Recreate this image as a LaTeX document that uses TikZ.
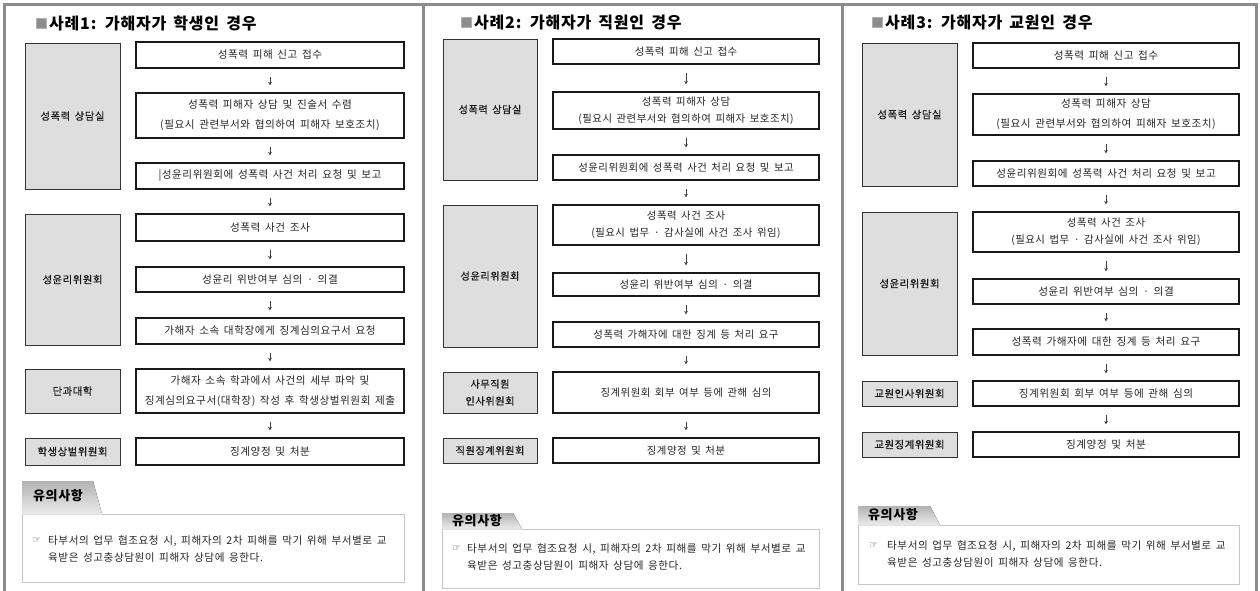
\documentclass[tikz,border=0pt]{standalone}
\usepackage{fontspec}
\setmainfont[LetterSpace=5,WordSpace=1.6]{Noto Sans CJK KR}
\newfontfamily\krfb[FakeBold=0.6,LetterSpace=5,WordSpace=1.6]{Noto Sans CJK KR}
\newfontfamily\dejavu{DejaVu Sans}
\usetikzlibrary{arrows.meta}
\newcommand\mkbox[7]{%
  \pgfmathsetmacro\mkbw{#4-#3}\pgfmathsetmacro\mkbh{#6-#5}%
  \node[#1,minimum width=\mkbw pt,minimum height=\mkbh pt] (#2) at ({(#3+#4)/2},{(#5+#6)/2}) {#7};}
\tikzset{
  rbox/.style={draw=black!90, line width=1.2pt, fill=white, inner sep=0pt, align=center, text=black!85},
  lbox/.style={draw=black!80, line width=0.9pt, fill=black!13, inner sep=0pt, align=center, text=black!90},
  fa/.style={font=\fontsize{10.6}{20}\selectfont},
  fb/.style={font=\fontsize{10.4}{17}\selectfont},
  la/.style={font=\krfb\fontsize{10.4}{20}\selectfont},
  lb/.style={font=\krfb\fontsize{10.2}{17}\selectfont},
  flow/.style={-{Stealth[length=3.5pt,width=3.6pt]}, line width=0.7pt, draw=black!75, shorten <=8.5pt, shorten >=7pt},
  frame/.style={draw=black!45, line width=3pt},
  sq/.style={draw=black!30, fill=black!45, minimum size=10pt, inner sep=0pt},
  ttl/.style={anchor=west, inner sep=0pt, font=\bfseries\fontsize{16}{18}\selectfont},
  tab/.style={top color=black!30, bottom color=black!8, draw=none},
  notebox/.style={draw=black!22, line width=0.8pt},
  notehd/.style={inner sep=0pt, font=\bfseries\fontsize{13}{14}\selectfont},
  notetext/.style={anchor=west, inner sep=0pt, align=left, text=black!85, font=\fontsize{10.6}{17}\selectfont},
  finger/.style={anchor=west, inner sep=0pt, text=black!70, font=\dejavu\fontsize{10}{10}\selectfont}
}
\begin{document}
\begin{tikzpicture}[x=1pt,y=-1pt]
\useasboundingbox (0,0) rectangle (1260,591);
\fill[white] (0,0) rectangle (1260,591);
% frames
\draw[frame] (2.5,5) -- (1257.5,5);
\draw[frame] (4,5) -- (4,591);
\draw[frame] (423,5) -- (423,591);
\draw[frame] (842,5) -- (842,591);
\draw[frame] (1256,5) -- (1256,591);

% ================= Panel 1 =================
\node[sq] (s1) at (41,23) {};
\node[ttl] (t1) at (49,23) {사례1: 가해자가 학생인 경우};
\mkbox{lbox,la}{a1}{25}{120}{43}{189}{성폭력 상담실}
\mkbox{lbox,la}{a2}{25}{120}{214}{345}{성윤리위원회}
\mkbox{lbox,la}{a3}{25}{120}{369}{413}{단과대학}
\mkbox{lbox,la}{a4}{25}{120}{438}{465}{학생상벌위원회}
\mkbox{rbox,fa}{p1}{136}{404}{42}{68}{성폭력 피해 신고 접수}
\mkbox{rbox,fa}{p2}{136}{404}{93}{138}{성폭력 피해자 상담 및 진술서 수렴\\(필요시 관련부서와 협의하여 피해자 보호조치)}
\mkbox{rbox,fa}{p3}{136}{404}{163}{189}{|성윤리위원회에 성폭력 사건 처리 요청 및 보고}
\mkbox{rbox,fa}{p4}{136}{404}{214}{241}{성폭력 사건 조사}
\mkbox{rbox,fa}{p5}{136}{404}{267}{292}{성윤리 위반여부 심의 · 의결}
\mkbox{rbox,fa}{p6}{136}{404}{318}{344}{가해자 소속 대학장에게 징계심의요구서 요청}
\mkbox{rbox,fa}{p7}{136}{404}{369}{413}{가해자 소속 학과에서 사건의 세부 파악 및\\징계심의요구서(대학장) 작성 후 학생상벌위원회 제출}
\mkbox{rbox,fa}{p8}{136}{404}{438}{465}{징계양정 및 처분}
\foreach \i/\j in {1/2,2/3,3/4,4/5,5/6,6/7,7/8} \draw[flow] (p\i.south) -- (p\j.north);
% note
\fill[tab] (22,481) -- (93,481) -- (102,514) -- (22,514) -- cycle;
\draw[notebox] (102,514) -- (404,514) -- (404,582) -- (22,582) -- (22,514);
\node[notehd] (h1) at (58,496) {유의사항};
\node[finger] (f1) at (32,540.5) {☞};
\node[notetext] (n1) at (48,548.5) {타부서의 업무 협조요청 시, 피해자의 2차 피해를 막기 위해 부서별로 교\\육받은 성고충상담원이 피해자 상담에 응한다.};

% ================= Panel 2 =================
\node[sq] (s2) at (466.5,22.5) {};
\node[ttl] (t2) at (474,23) {사례2: 가해자가 직원인 경우};
\mkbox{lbox,lb}{b1}{443}{537}{39}{180}{성폭력 상담실}
\mkbox{lbox,lb}{b2}{443}{537}{205}{347}{성윤리위원회}
\mkbox{lbox,lb}{b3}{443}{537}{372}{413}{사무직원\\인사위원회}
\mkbox{lbox,lb}{b4}{443}{537}{438}{463}{직원징계위원회}
\mkbox{rbox,fb}{q1}{553}{819}{39}{64}{성폭력 피해 신고 접수}
\mkbox{rbox,fb}{q2}{553}{819}{92}{129}{성폭력 피해자 상담\\(필요시 관련부서와 협의하여 피해자 보호조치)}
\mkbox{rbox,fb}{q3}{553}{819}{155}{180}{성윤리위원회에 성폭력 사건 처리 요청 및 보고}
\mkbox{rbox,fb}{q4}{553}{819}{205}{245}{성폭력 사건 조사\\(필요시 법무 · 감사실에 사건 조사 위임)}
\mkbox{rbox,fb}{q5}{553}{819}{273}{296}{성윤리 위반여부 심의 · 의결}
\mkbox{rbox,fb}{q6}{553}{819}{322}{347}{성폭력 가해자에 대한 징계 등 처리 요구}
\mkbox{rbox,fb}{q7}{553}{819}{372}{413}{징계위원회 회부 여부 등에 관해 심의}
\mkbox{rbox,fb}{q8}{553}{819}{438}{463}{징계양정 및 처분}
\foreach \i/\j in {1/2,2/3,3/4,4/5,5/6,6/7,7/8} \draw[flow] (q\i.south) -- (q\j.north);
\fill[tab] (442,513) -- (513,513) -- (522,529) -- (442,529) -- cycle;
\draw[notebox] (522,529) -- (819,529) -- (819,588) -- (442,588) -- (442,529);
\node[notehd] (h2) at (477,521) {유의사항};
\node[finger] (f2) at (452,549) {☞};
\node[notetext] (n2) at (467,557) {타부서의 업무 협조요청 시, 피해자의 2차 피해를 막기 위해 부서별로 교\\육받은 성고충상담원이 피해자 상담에 응한다.};

% ================= Panel 3 =================
\node[sq] (s3) at (877,22.5) {};
\node[ttl] (t3) at (885,23) {사례3: 가해자가 교원인 경우};
\mkbox{lbox,la}{c1}{862}{957}{43}{186}{성폭력 상담실}
\mkbox{lbox,la}{c2}{862}{957}{212}{355}{성윤리위원회}
\mkbox{lbox,la}{c3}{862}{957}{381}{406}{교원인사위원회}
\mkbox{lbox,la}{c4}{862}{957}{432}{457}{교원징계위원회}
\mkbox{rbox,fa}{r1}{973}{1239}{43}{68}{성폭력 피해 신고 접수}
\mkbox{rbox,fa}{r2}{973}{1239}{94}{135}{성폭력 피해자 상담\\(필요시 관련부서와 협의하여 피해자 보호조치)}
\mkbox{rbox,fa}{r3}{973}{1239}{161}{186}{성윤리위원회에 성폭력 사건 처리 요청 및 보고}
\mkbox{rbox,fb}{r4}{973}{1239}{212}{252}{성폭력 사건 조사\\(필요시 법무 · 감사실에 사건 조사 위임)}
\mkbox{rbox,fa}{r5}{973}{1239}{279}{304}{성윤리 위반여부 심의 · 의결}
\mkbox{rbox,fa}{r6}{973}{1239}{329}{355}{성폭력 가해자에 대한 징계 등 처리 요구}
\mkbox{rbox,fa}{r7}{973}{1239}{381}{406}{징계위원회 회부 여부 등에 관해 심의}
\mkbox{rbox,fa}{r8}{973}{1239}{432}{457}{징계양정 및 처분}
\foreach \i/\j in {1/2,2/3,3/4,4/5,5/6,6/7,7/8} \draw[flow] (r\i.south) -- (r\j.north);
\fill[tab] (858,506) -- (930,506) -- (940,525) -- (858,525) -- cycle;
\draw[notebox] (940,525) -- (1239,525) -- (1239,584) -- (858,584) -- (858,525);
\node[notehd] (h3) at (893,515) {유의사항};
\node[finger] (f3) at (869,546) {☞};
\node[notetext] (n3) at (887,554) {타부서의 업무 협조요청 시, 피해자의 2차 피해를 막기 위해 부서별로 교\\육받은 성고충상담원이 피해자 상담에 응한다.};
\end{tikzpicture}
\end{document}
